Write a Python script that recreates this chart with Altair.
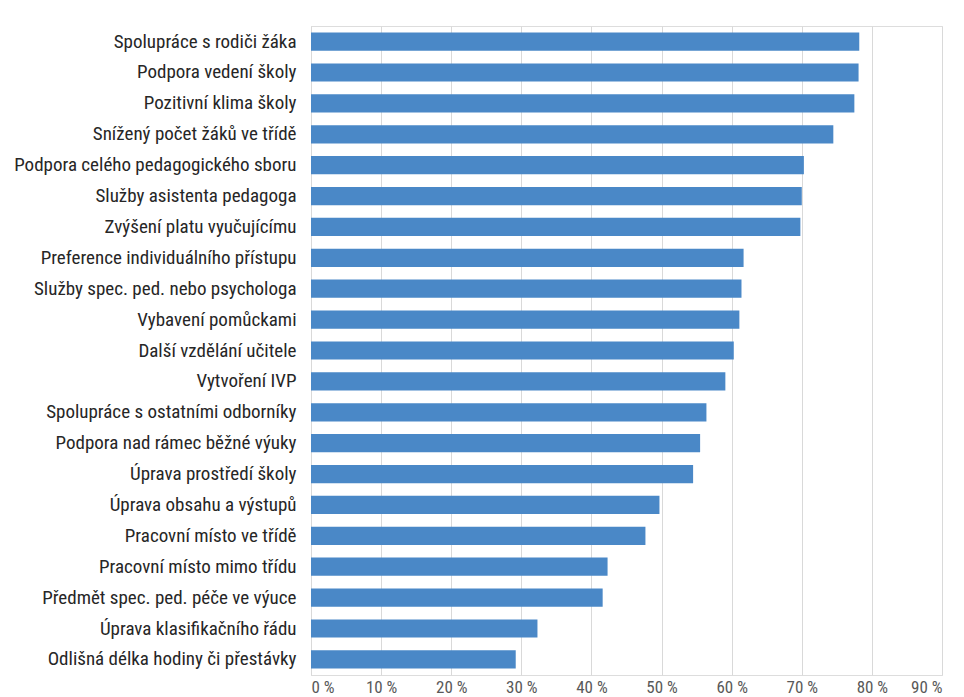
import altair as alt
import pandas as pd

# Survey results: share of respondents naming each support measure
categories = [
    "Spolupráce s rodiči žáka",
    "Podpora vedení školy",
    "Pozitivní klima školy",
    "Snížený počet žáků ve třídě",
    "Podpora celého pedagogického sboru",
    "Služby asistenta pedagoga",
    "Zvýšení platu vyučujícímu",
    "Preference individuálního přístupu",
    "Služby spec. ped. nebo psychologa",
    "Vybavení pomůckami",
    "Další vzdělání učitele",
    "Vytvoření IVP",
    "Spolupráce s ostatními odborníky",
    "Podpora nad rámec běžné výuky",
    "Úprava prostředí školy",
    "Úprava obsahu a výstupů",
    "Pracovní místo ve třídě",
    "Pracovní místo mimo třídu",
    "Předmět spec. ped. péče ve výuce",
    "Úprava klasifikačního řádu",
    "Odlišná délka hodiny či přestávky",
]
shares = [
    0.782, 0.781, 0.775, 0.745, 0.703, 0.700, 0.698,
    0.617, 0.614, 0.611, 0.603, 0.591, 0.564, 0.555,
    0.545, 0.497, 0.477, 0.423, 0.416, 0.323, 0.292,
]
x_ticks = [0, 0.1, 0.2, 0.3, 0.4, 0.5, 0.6, 0.7, 0.8, 0.9]

df = pd.DataFrame({"opatreni": categories, "podil": shares})

FONT = "Roboto Condensed, Noto Sans Condensed, Liberation Sans, Arial, sans-serif"

chart = (
    alt.Chart(df)
    .mark_bar(color="#4a88c7")
    .encode(
        x=alt.X(
            "podil:Q",
            scale=alt.Scale(domain=[0, 0.9], nice=False),
            axis=alt.Axis(
                values=x_ticks,
                labelExpr="format(datum.value * 100, 'd') + ' %'",
                title=None,
                domain=False,
                ticks=False,
                grid=True,
                gridColor="#d9d9d9",
                gridWidth=1,
                labelFont=FONT,
                labelFontSize=17,
                labelColor="#595959",
                labelPadding=4,
            ),
        ),
        y=alt.Y(
            "opatreni:N",
            sort=categories,
            scale=alt.Scale(paddingInner=0.41, paddingOuter=0.21),
            axis=alt.Axis(
                title=None,
                domain=True,
                domainColor="#d9d9d9",
                ticks=False,
                labelFont=FONT,
                labelFontSize=19,
                labelColor="#262626",
                labelPadding=15,
                labelLimit=400,
            ),
        ),
    )
    .properties(
        width=631,
        height=649,
        autosize=alt.AutoSizeParams(type="none"),
        padding={"left": 311, "top": 26, "right": 22, "bottom": 22},
    )
    .configure_view(stroke=None)
    .configure(background="white")
)

chart.save("out.html", embed_options={"renderer": "svg", "actions": False})
